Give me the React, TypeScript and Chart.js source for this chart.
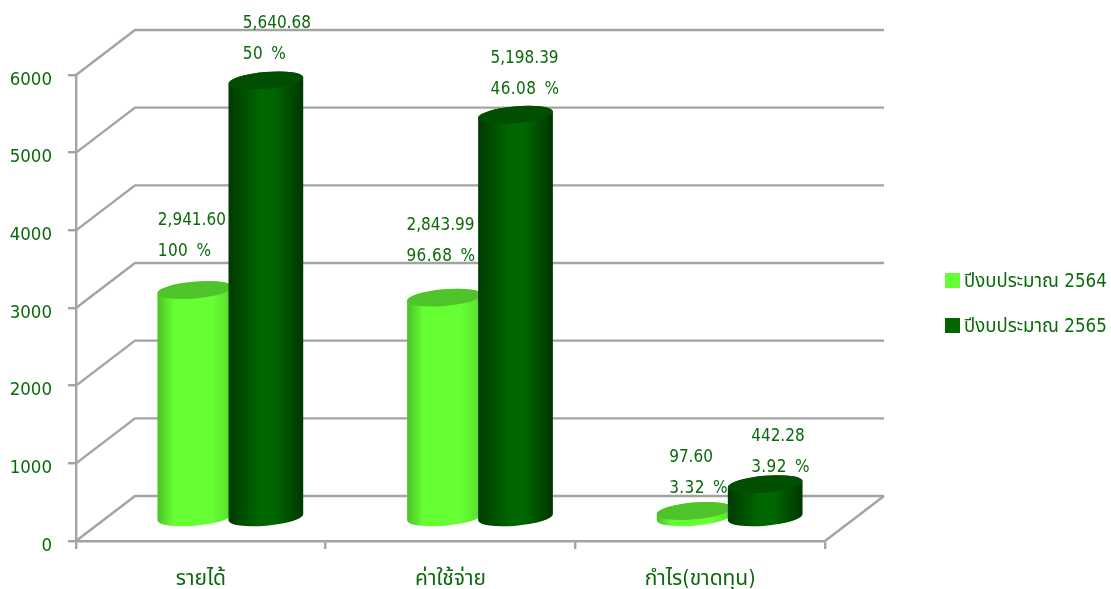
import React, { useEffect, useRef } from "react";
import { Chart, registerables } from "chart.js";

Chart.register(...registerables);

const categories = ["รายได้", "ค่าใช้จ่าย", "กำไร(ขาดทุน)"];
const seriesNames = ["ปีงบประมาณ 2564", "ปีงบประมาณ 2565"];
const values2564 = [2941.6, 2843.99, 97.6];
const values2565 = [5640.68, 5198.39, 442.28];
const amountLabels = [
  ["2,941.60", "2,843.99", "97.60"],
  ["5,640.68", "5,198.39", "442.28"],
];
const percentLabels = [
  ["100 %", "96.68 %", "3.32 %"],
  ["50 %", "46.08 %", "3.92 %"],
];
const yTicks = [0, 1000, 2000, 3000, 4000, 5000, 6000];

const LATIN = '"DejaVu Sans Condensed", "DejaVu Sans", "Noto Sans Thai", "Noto Sans", sans-serif';
const TEXT = "#0a6a0a";
const GRID = "#a3a3a3";
const DEPTH_X = 59;
const DEPTH_Y = -45;

const shades = [
  {
    stops: [[0, "#4cc028"], [0.22, "#66ff33"], [0.72, "#66ff33"], [1, "#58dc2e"]],
    top: "#4fc42a",
  },
  {
    stops: [[0, "#003a00"], [0.42, "#006600"], [0.62, "#006600"], [1, "#003600"]],
    top: "#004f00",
  },
];
// distance of each label's left edge from the cylinder centre, and of its second line above the cap
const labelDx = [[-37, -38, -25], [-23, -25, -14]];
const labelDy = [[38, 41, 22], [26, 25, 17]];

const scene = {
  id: "scene",
  beforeDatasetsDraw(chart: any) {
    const { ctx, chartArea: a, scales } = chart;
    const y = scales.y;
    ctx.save();
    ctx.strokeStyle = GRID;
    ctx.lineWidth = 2.4;
    const backRight = a.right + DEPTH_X;
    yTicks.forEach((t) => {
      const py = y.getPixelForValue(t);
      ctx.beginPath();
      ctx.moveTo(a.left, py);
      ctx.lineTo(a.left + DEPTH_X, py + DEPTH_Y);
      ctx.lineTo(backRight, py + DEPTH_Y);
      ctx.stroke();
    });
    ctx.beginPath();
    ctx.moveTo(a.right, a.bottom);
    ctx.lineTo(backRight, a.bottom + DEPTH_Y);
    ctx.stroke();

    const tilt = (-5 * Math.PI) / 180;
    const ry = 8.4;
    const n = categories.length;
    for (let i = 0; i < n; i++) {
      [0, 1].forEach((d) => {
        const bar = chart.getDatasetMeta(d).data[i];
        const { x, y: top, base, width } = bar.getProps(["x", "y", "base", "width"], true);
        const cx = x + DEPTH_X / 2;
        const topY = top + DEPTH_Y / 2;
        const botY = base + DEPTH_Y / 2;
        const rx = width / 2;
        const s = shades[d];
        const g = ctx.createLinearGradient(cx - rx, 0, cx + rx, 0);
        s.stops.forEach(([o, c]: any) => g.addColorStop(o, c));
        ctx.beginPath();
        ctx.ellipse(cx, botY, rx, ry, tilt, Math.PI, 0, true);
        ctx.ellipse(cx, topY, rx, ry, tilt, 0, Math.PI, true);
        ctx.closePath();
        ctx.fillStyle = g;
        ctx.fill();
        ctx.beginPath();
        ctx.ellipse(cx, topY, rx, ry, tilt, 0, Math.PI * 2);
        ctx.fillStyle = s.top;
        ctx.fill();
      });
    }

    ctx.font = `17px ${LATIN}`;
    ctx.fillStyle = TEXT;
    ctx.textAlign = "left";
    ctx.textBaseline = "middle";
    for (let i = 0; i < n; i++) {
      [0, 1].forEach((d) => {
        const bar = chart.getDatasetMeta(d).data[i];
        const { x, y: top } = bar.getProps(["x", "y"], true);
        const cx = x + DEPTH_X / 2;
        const topY = top + DEPTH_Y / 2;
        const lx = cx + labelDx[d][i];
        const ly = topY - labelDy[d][i];
        ctx.fillText(amountLabels[d][i], lx, ly - 31);
        ctx.wordSpacing = "3px";
        ctx.letterSpacing = "0.4px";
        ctx.fillText(percentLabels[d][i], lx, ly);
        ctx.wordSpacing = "0px";
        ctx.letterSpacing = "0px";
      });
    }

    ctx.font = `18.6px ${LATIN}`;
    seriesNames.forEach((name, d) => {
      const ly = 281 + d * 45;
      ctx.fillStyle = chart.data.datasets[d].backgroundColor;
      ctx.fillRect(945, ly - 8, 15, 15);
      ctx.fillStyle = TEXT;
      ctx.fillText(name, 964, ly + 1);
    });
    ctx.restore();
    return false;
  },
};

export default function App() {
  const ref = useRef<HTMLCanvasElement>(null);
  useEffect(() => {
    document.body.style.margin = "0";
    const chart = new Chart(ref.current!, {
      type: "bar",
      data: {
        labels: categories,
        datasets: [
          { label: seriesNames[0], data: values2564, backgroundColor: "#66ff33" },
          { label: seriesNames[1], data: values2565, backgroundColor: "#006600" },
        ],
      },
      options: {
        responsive: false,
        animation: false,
        devicePixelRatio: 1,
        layout: { padding: { left: 0, right: 286, top: 75, bottom: 0 } },
        datasets: { bar: { categoryPercentage: 0.569, barPercentage: 1.056 } },
        plugins: { legend: { display: false }, tooltip: { enabled: false } },
        scales: {
          x: {
            afterFit: (s: any) => { s.height = 48; },
            border: { color: GRID, width: 2.4 },
            grid: { color: GRID, lineWidth: 2.4, drawOnChartArea: false, tickLength: 8 },
            ticks: { color: TEXT, font: { family: LATIN, size: 21 }, padding: 18, maxRotation: 0 },
          },
          y: {
            min: 0,
            max: 6000,
            afterFit: (s: any) => { s.width = 76; },
            border: { color: GRID, width: 2.4 },
            grid: { color: GRID, lineWidth: 2.4, drawOnChartArea: false, tickLength: 8 },
            ticks: { color: TEXT, font: { family: LATIN, size: 18.5 }, padding: 16, labelOffset: 5, stepSize: 1000, callback: (v: any) => String(v) },
          },
        },
      } as any,
      plugins: [scene],
    });
    return () => chart.destroy();
  }, []);
  return <canvas ref={ref} width={1111} height={589} style={{ display: "block" }} />;
}
